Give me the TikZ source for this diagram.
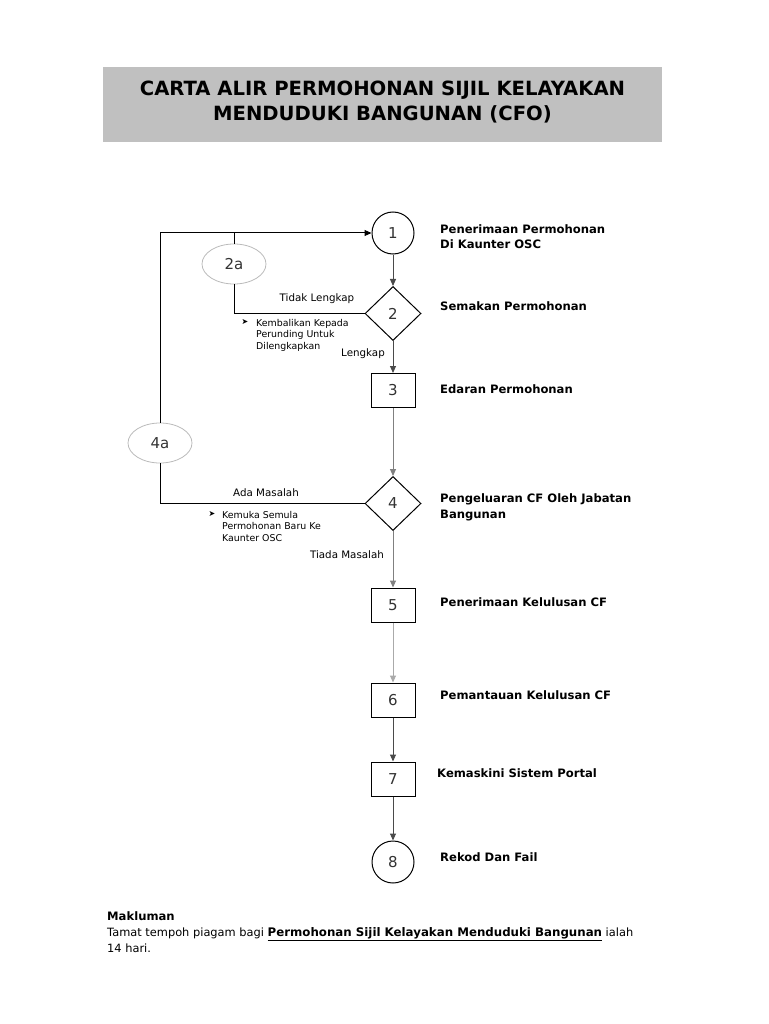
\documentclass[tikz,border=0pt]{standalone}
\usepackage{fontspec}
\setmainfont{DejaVu Sans}
\usetikzlibrary{shapes.geometric,arrows.meta}
\definecolor{titlegray}{HTML}{C0C0C0}
\definecolor{numgray}{HTML}{333333}
\definecolor{ellgray}{HTML}{BBBBBB}
\definecolor{lndark}{HTML}{4A4A4A}
\definecolor{lnmid}{HTML}{808080}
\definecolor{lnlight}{HTML}{AAAAAA}
\tikzset{
  stepcirc/.style={circle,draw=black,line width=1pt,minimum size=42pt,inner sep=0pt,fill=white,text=numgray,font=\fontsize{15}{15}\selectfont},
  stepbox/.style={rectangle,draw=black,line width=1pt,minimum width=44pt,minimum height=34pt,inner sep=0pt,fill=white,text=numgray,font=\fontsize{15}{15}\selectfont},
  stepdiam/.style={diamond,draw=black,line width=1pt,minimum width=56pt,minimum height=54pt,inner sep=0pt,fill=white,text=numgray,font=\fontsize{15}{15}\selectfont},
  stepell/.style={ellipse,draw=ellgray,line width=0.8pt,minimum width=64pt,minimum height=40pt,inner sep=0pt,fill=white,text=numgray,font=\fontsize{15}{15}\selectfont},
  flow/.style={line width=1pt,-{Triangle[length=7pt,width=6pt]}},
  plain/.style={line width=1pt,draw=black},
  desc/.style={inner sep=0pt,font=\bfseries\fontsize{11.6}{15}\selectfont,align=left},
  lbl/.style={inner sep=0pt,font=\fontsize{10.3}{12}\selectfont},
  bul/.style={inner sep=0pt,font=\fontsize{9.4}{11.5}\selectfont,align=left},
  bulmark/.style={inner sep=0pt,font=\fontsize{8}{8}\selectfont},
}
\begin{document}
\begin{tikzpicture}[x=1pt,y=-1pt]
\useasboundingbox (0,0) rectangle (768,1024);
\fill[white] (0,0) rectangle (768,1024);

% title
\node[rectangle,fill=titlegray,minimum width=559pt,minimum height=75pt,inner sep=0pt] (titlebox) at (382.5,104.5) {};
\node[inner sep=0pt,align=center,font=\bfseries\fontsize{19.6}{25}\selectfont] (title) at (382.5,102.5)
  {CARTA ALIR PERMOHONAN SIJIL KELAYAKAN\\MENDUDUKI BANGUNAN (CFO)};

% steps
\node[stepcirc] (n1) at (393,233) {1};
\node[stepdiam] (n2) at (393,313.5) {2};
\node[stepbox] (n3) at (393,390.5) {3};
\node[stepdiam] (n4) at (393,503.5) {4};
\node[stepbox] (n5) at (393,605) {5};
\node[stepbox] (n6) at (393,700) {6};
\node[stepbox] (n7) at (393,779) {7};
\node[stepcirc] (n8) at (393,862) {8};

\node[stepell] (e2a) at (234,264) {2a};
\node[stepell] (e4a) at (160,443) {4a};

% main flow
\draw[flow,draw=lndark] (n1) -- (n2);
\draw[flow,draw=lndark] (n2) -- (n3);
\draw[flow,draw=lnmid] (n3) -- (n4);
\draw[flow,draw=lnmid] (n4) -- (n5);
\draw[flow,draw=lnlight] (n5) -- (n6);
\draw[flow,draw=lndark] (n6) -- (n7);
\draw[flow,draw=lndark] (n7) -- (n8);

% loops
\coordinate (j2) at (e2a.north |- n1.west);
\draw[plain] (n2.west) -| (e2a.south);
\draw[plain] (e2a.north) -- (j2);
\draw[plain] (n4.west) -| (e4a.south);
\draw[flow,draw=black] (e4a.north) |- (n1.west);

% labels
\node[lbl,anchor=base] (tl) at (317,301) {Tidak Lengkap};
\node[lbl,anchor=base] (lk) at (363,356) {Lengkap};
\node[lbl,anchor=base] (am) at (266,496) {Ada Masalah};
\node[lbl,anchor=base] (tm) at (347,558) {Tiada Masalah};

\node[bulmark] (b1) at (245,322) {➤};
\node[bul,anchor=north west] (bt1) at (256,319) {Kembalikan Kepada\\Perunding Untuk\\Dilengkapkan};
\node[bulmark] (b2) at (212,514) {➤};
\node[bul,anchor=north west] (bt2) at (222,511) {Kemuka Semula\\Permohonan Baru Ke\\Kaunter OSC};

% descriptions
\node[desc,anchor=north west] (d1) at (440,224.6) {Penerimaan Permohonan\\Di Kaunter OSC};
\node[desc,anchor=base west] (d2) at (440,310) {Semakan Permohonan};
\node[desc,anchor=base west] (d3) at (440,393) {Edaran Permohonan};
\node[desc,anchor=north west,font=\bfseries\fontsize{11.6}{16}\selectfont] (d4) at (440,493.6) {Pengeluaran CF Oleh Jabatan\\Bangunan};
\node[desc,anchor=base west] (d5) at (440,606) {Penerimaan Kelulusan CF};
\node[desc,anchor=base west] (d6) at (440,699) {Pemantauan Kelulusan CF};
\node[desc,anchor=base west] (d7) at (437,777) {Kemaskini Sistem Portal};
\node[desc,anchor=base west] (d8) at (440,861) {Rekod Dan Fail};

% note
\node[inner sep=0pt,anchor=north west,align=left,font=\fontsize{11.4}{16}\selectfont] (note) at (107,911.5)
  {{\bfseries\fontsize{11.6}{16}\selectfont Makluman}\\Tamat tempoh piagam bagi \underline{\bfseries\fontsize{11.8}{16}\selectfont Permohonan Sijil Kelayakan Menduduki Bangunan} ialah\\14 hari.};
\end{tikzpicture}
\end{document}
